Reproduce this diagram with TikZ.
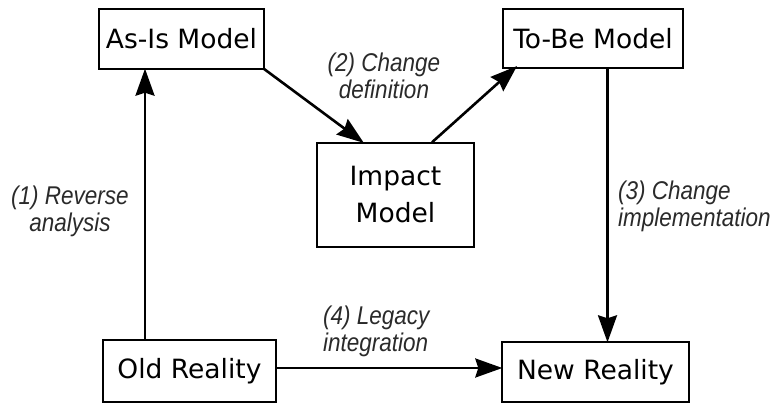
\documentclass[tikz,border=0pt]{standalone}
\usepackage{fontspec}
\usepackage{graphicx}
\setmainfont{DejaVu Sans}
\newfontfamily\lblfont{Liberation Sans}
\usetikzlibrary{arrows.meta}
\definecolor{lblcol}{HTML}{2A2A2A}
\newcommand\talltxt[1]{\scalebox{1}[1.14]{#1}}
\tikzset{
  box/.style={draw=black, line width=1.4pt, fill=white, inner sep=0pt,
    font=\fontsize{26.5}{37}\selectfont, align=center},
  arr/.style={line width=2.6pt, -{Stealth[length=27pt, width=19pt, inset=3pt]}, shorten >=-1pt},
  lbl/.style={font=\lblfont\itshape\fontsize{22.5}{27}\selectfont, text=lblcol, inner sep=0pt}
}
\begin{document}
\begin{tikzpicture}[x=1pt, y=-1pt]
\useasboundingbox (0,0) rectangle (773,403);
\node[box, minimum width=165pt, minimum height=60pt] (asis) at (181.5,39) {As-Is Model};
\node[box, minimum width=180pt, minimum height=59pt] (tobe) at (593,38.5) {To-Be Model};
\node[box, minimum width=157pt, minimum height=104pt] (impact) at (395.5,195) {Impact\\Model};
\node[box, minimum width=173pt, minimum height=62pt] (old) at (189.5,371) {Old Reality};
\node[box, minimum width=187pt, minimum height=60pt] (new) at (595.5,372) {New Reality};
\coordinate (c1) at (145,0);
\coordinate (c3) at (607.5,0);
\coordinate (c4) at (0,368);
\coordinate (i1) at (363,0);
\coordinate (i2) at (432,0);
\draw[arr] (old.north -| c1) -- (asis.south -| c1);
\draw[arr] ([shift={(-1,-1)}]asis.south east) -- (impact.north -| i1);
\draw[arr] (impact.north -| i2) -- ([shift={(14,-2)}]tobe.south west);
\draw[arr] (tobe.south -| c3) -- (new.north -| c3);
\draw[arr] (old.east |- c4) -- (new.west |- c4);
\node[lbl, align=center] (l1) at (70,211) {\talltxt{(1) Reverse}\\\talltxt{analysis}};
\node[lbl, align=center] (l2) at (384,76) {\talltxt{(2) Change}\\\talltxt{definition}};
\node[lbl, align=left, anchor=west] (l3) at (618,206) {\talltxt{(3) Change}\\\talltxt{implementation}};
\node[lbl, align=left, anchor=west] (l4) at (323,331) {\talltxt{(4) Legacy}\\\talltxt{integration}};
\end{tikzpicture}
\end{document}
